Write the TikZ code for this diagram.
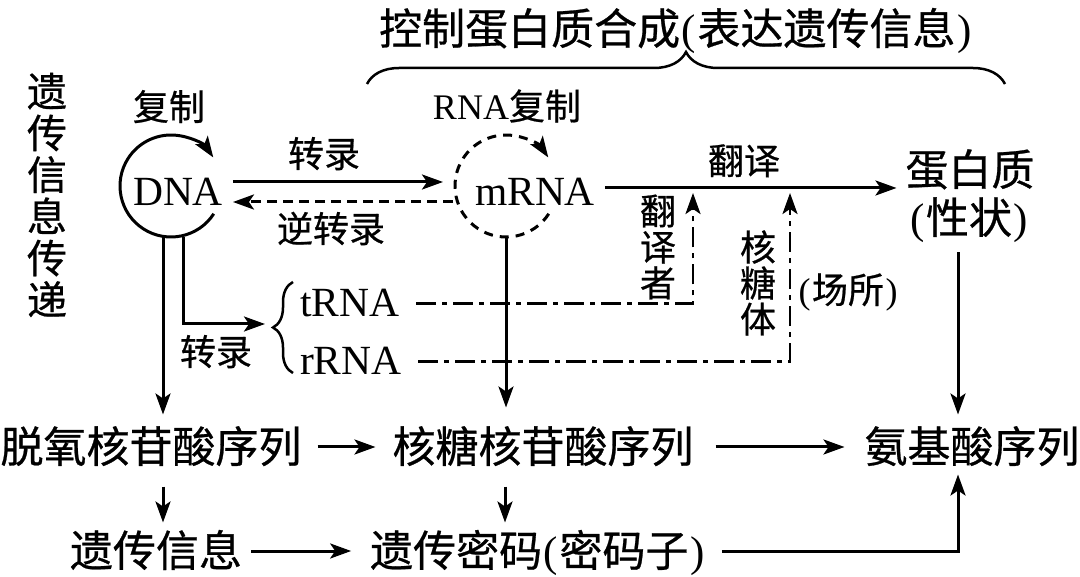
\documentclass[tikz,border=0pt]{standalone}
\usepackage{fontspec}
\setmainfont{Liberation Serif}
\newfontfamily\cjk[FakeBold=0.6]{Noto Sans CJK SC}
\usetikzlibrary{arrows.meta,decorations.pathreplacing,calc}
\newcommand\LPar{{\rmfamily\kern1.5pt(\kern1.5pt}}
\newcommand\RPar{{\rmfamily\kern1.5pt)\kern1.5pt}}
\begin{document}
\begin{tikzpicture}[x=1pt,y=-1pt,
 every node/.style={inner sep=0pt,outer sep=0pt},
 big/.style={font=\cjk\fontsize{43}{47}\selectfont, text height=35pt, text depth=4pt},
 lab/.style={font=\cjk\fontsize{36}{40}\selectfont, text height=29.5pt, text depth=3pt},
 lat/.style={font=\fontsize{41.5}{46}\selectfont},
 vert/.style={font=\cjk\fontsize{36}{36}\selectfont, align=center},
 tip/.style={-{Stealth[length=21pt,width=15pt,inset=5pt]}},
 ln/.style={line width=3pt},
 conn/.style={ln,tip},
 rdash/.style={dash pattern=on 10pt off 6pt},
 dd/.style={line width=2.7pt, dash pattern=on 20pt off 6pt on 5pt off 6pt},
 brc/.style={line width=2.5pt, decorate, decoration={brace, amplitude=#1}},
]
\fill[white] (0,0) rectangle (1080,577);
\useasboundingbox (0,0) rectangle (1080,577);

% column helpers
\coordinate (cA) at (163,0);
\coordinate (cB) at (505,0);
\coordinate (cC) at (958,0);
\coordinate (cx1) at (693,0);
\coordinate (cx2) at (790,0);

% title and brace
\node[big] (title) at (676,29) {控制蛋白质合成\LPar 表达遗传信息\RPar};
\coordinate (tbL) at (367,84);
\coordinate (tbR) at (1005,84);
\draw[brc=32pt] (tbL) -- (tbR);

% left vertical label
\node[font=\cjk\fontsize{40}{41.7}\selectfont, align=center] (chuandi) at (47,195) {遗\\传\\信\\息\\传\\递};

% DNA
\node[lab] (fz) at (169,107) {复制};
\node[lat] (dna) at (178,192) {DNA};
\node[circle, minimum size=102pt] (dc) at (171,186) {};
\draw[ln,tip] ([shift={(-33:51pt)}]dc.center) arc[start angle=-33, end angle=-326, radius=51pt];

% mRNA
\node[font=\fontsize{36}{40}\selectfont] (rfz) at (507,106) {RNA{\cjk 复制}};
\node[lat] (mrna) at (535,191.5) {mRNA};
\node[circle, minimum size=102pt] (mc) at (506,186) {};
\draw[ln,tip,dash pattern=on 9pt off 7pt] ([shift={(-33:51pt)}]mc.center) arc[start angle=-33, end angle=-326, radius=51pt];

% transcription / reverse transcription
\node[lab] (zl1) at (324,154) {转录};
\node[lab] (nzl) at (331,229) {逆转录};
\draw[conn, shorten <=10pt, shorten >=12pt] ([yshift=10pt]dna.east) -- ([yshift=4pt]mc.west);
\draw[conn, rdash, shorten <=2pt, shorten >=10pt] ([yshift=-16pt]mc.west) -- ([yshift=-10pt]dna.east);

% protein
\node[big] (prot) at (970,170) {蛋白质};
\node[big] (xz) at (969,218) {\LPar 性状\RPar};

% translation
\node[lab] (fy) at (744,161) {翻译};
\path ([yshift=3.5pt]mrna.east) coordinate (tl);
\draw[conn, shorten <=10pt, shorten >=9pt] (tl) -- (tl -| prot.west);

% tRNA / rRNA
\node[lat, anchor=base west] (trna) at (300,317) {tRNA};
\node[lat, anchor=base west] (rrna) at (300,375) {rRNA};
\coordinate (bb) at (293,373);
\coordinate (bt) at (293,282);
\coordinate (btip) at (272,324);
\draw[brc=20pt] (bb) -- (bt);
\draw[dd, tip, shorten <=17pt, shorten >=5pt] (trna.east) -| (tl -| cx1);
\draw[dd, tip, shorten <=17pt, shorten >=5pt] (rrna.east) -| (tl -| cx2);
\node[vert] (fyz) at (658,247) {翻\\译\\者};
\node[vert] (htt) at (758,283) {核\\糖\\体};
\node[lab] (cs) at (848,290) {\LPar 场所\RPar};

% DNA downward lines
\path ([xshift=-8pt]dc.south) coordinate (dl);
\path ([xshift=12pt]dc.south) coordinate (dr);
\node[lab] (zl2) at (216,352) {转录};

% bottom rows
\node[big] (dx) at (151,447) {脱氧核苷酸序列};
\node[big] (hx) at (543,447) {核糖核苷酸序列};
\node[big] (aa) at (972,447) {氨基酸序列};
\node[big] (yx) at (156,551) {遗传信息};
\node[big] (mm) at (538,551) {遗传密码\LPar 密码子\RPar};

\draw[conn, shorten >=13pt] (dl) -- (dl |- dx.north);
\draw[conn, shorten >=7pt] (dr) |- (btip);
\draw[conn, shorten >=20pt] (mc.south) -- (mc.south |- hx.north);
\draw[conn, shorten <=15pt, shorten >=13pt] (xz.south -| cC) -- (aa.north -| cC);

\draw[conn, shorten <=16pt, shorten >=17pt] (dx.east) -- (hx.west);
\draw[conn, shorten <=22pt, shorten >=20pt] (hx.east) -- (aa.west);
\draw[conn, shorten <=20pt, shorten >=9pt] (dx.south -| cA) -- (yx.north -| cA);
\draw[conn, shorten <=20pt, shorten >=9pt] (hx.south -| cB) -- (mm.north -| cB);
\draw[conn, shorten <=9pt, shorten >=19pt] (yx.east) -- (mm.west);
\draw[conn, shorten <=16pt, shorten >=8pt] (mm.east) -| (aa.south -| cC);
\end{tikzpicture}
\end{document}
